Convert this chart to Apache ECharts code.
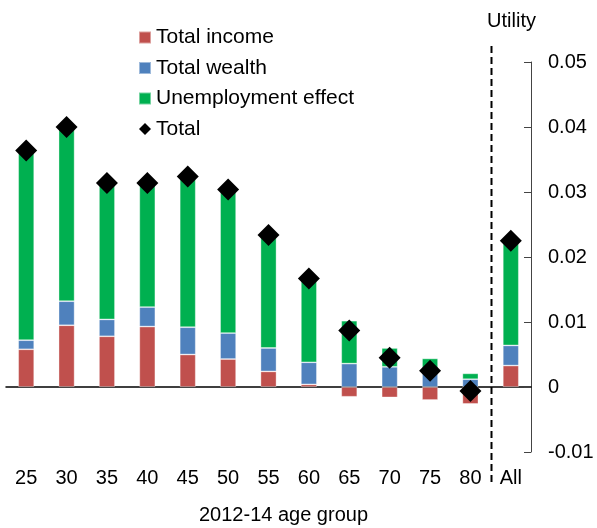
<!DOCTYPE html>
<html>
<head>
<meta charset="utf-8">
<script src="https://cdn.jsdelivr.net/npm/echarts@6/dist/echarts.min.js"></script>
<style>
  html, body { margin: 0; padding: 0; background: #fff; }
  #chart { width: 597px; height: 528px; }
</style>
</head>
<body>
<div id="chart"></div>
<script>
// data
var ageGroups = ['25', '30', '35', '40', '45', '50', '55', '60', '65', '70', '75', '80', 'All'];
var totalIncome = [0.0058, 0.0095, 0.0078, 0.0093, 0.0050, 0.0043, 0.0024, 0.0004, -0.0015, -0.0016, -0.0020, -0.0026, 0.0033];
var totalWealth = [0.0014, 0.0037, 0.0026, 0.0030, 0.0042, 0.0040, 0.0036, 0.0034, 0.0036, 0.0031, 0.0027, 0.0012, 0.0031];
var unemploymentEffect = [0.0288, 0.0266, 0.0207, 0.0187, 0.0229, 0.0217, 0.0171, 0.0127, 0.0066, 0.0029, 0.0017, 0.0009, 0.0157];
var total = [0.0364, 0.0400, 0.0314, 0.0314, 0.0324, 0.0304, 0.0234, 0.0167, 0.0087, 0.0045, 0.0025, -0.0006, 0.0225];
var yMin = -0.01, yMax = 0.05, yStep = 0.01;

var font = 'Liberation Sans, Arial, sans-serif';
var chart = echarts.init(document.getElementById('chart'));

chart.setOption({
  animation: false,
  textStyle: { fontFamily: font, color: '#000' },
  grid: { left: 6, right: 66, top: 62, bottom: 76, containLabel: false, outerBoundsMode: 'none' },
  legend: {
    orient: 'vertical',
    left: 133,
    top: 22,
    itemWidth: 12,
    itemHeight: 12,
    itemGap: 9.5,
    textStyle: { fontSize: 21, color: '#000', fontFamily: font },
    data: [
      { name: 'Total income', icon: 'rect' },
      { name: 'Total wealth', icon: 'rect' },
      { name: 'Unemployment effect', icon: 'rect' },
      { name: 'Total', icon: 'diamond' }
    ]
  },
  xAxis: [{
    // labels + name at the bottom
    type: 'category',
    data: ageGroups,
    position: 'bottom',
    axisLine: { show: false, onZero: false },
    axisTick: { show: false },
    axisLabel: { fontSize: 20, color: '#000', margin: 16 },
    name: '2012-14 age group',
    nameLocation: 'middle',
    nameGap: 53,
    nameTextStyle: { fontSize: 20, color: '#000', padding: [0, 0, 0, 30] }
  }, {
    // zero line with ticks
    type: 'category',
    data: ageGroups,
    axisLine: { onZero: true, lineStyle: { color: '#000', width: 1.5 } },
    axisTick: { inside: true, length: 5, lineStyle: { color: '#555' } },
    axisLabel: { show: false }
  }],
  yAxis: {
    type: 'value',
    position: 'right',
    min: yMin,
    max: yMax,
    interval: yStep,
    splitLine: { show: false },
    axisLine: { show: true, lineStyle: { color: '#444' } },
    axisTick: { show: true, inside: true, length: 7, lineStyle: { color: '#444' } },
    axisLabel: {
      fontSize: 20, color: '#000', margin: 17,
      formatter: function (v) { return v === 0 ? '0' : v.toFixed(2); }
    },
    name: 'Utility',
    nameLocation: 'end',
    nameGap: 31,
    nameTextStyle: { fontSize: 20, color: '#000', align: 'right', padding: [0, -5, 0, 0] }
  },
  series: [
    {
      name: 'Total income', type: 'bar', stack: 'u', barWidth: 16,
      itemStyle: { color: '#C0504D', borderColor: 'rgba(255,255,255,0.45)', borderWidth: 0.8 },
      data: totalIncome
    },
    {
      name: 'Total wealth', type: 'bar', stack: 'u', barWidth: 16,
      itemStyle: { color: '#4F81BD', borderColor: 'rgba(255,255,255,0.45)', borderWidth: 0.8 },
      data: totalWealth
    },
    {
      name: 'Unemployment effect', type: 'bar', stack: 'u', barWidth: 16,
      itemStyle: { color: '#00B050', borderColor: 'rgba(255,255,255,0.45)', borderWidth: 0.8 },
      data: unemploymentEffect
    },
    {
      name: 'Total', type: 'scatter', symbol: 'diamond', symbolSize: 22, z: 5,
      itemStyle: { color: '#000', opacity: 1 },
      data: total
    }
  ]
});

// dashed divider between "80" and "All", placed from the axis scale
var xa = chart.convertToPixel({ xAxisIndex: 0 }, ageGroups[ageGroups.length - 2]);
var xb = chart.convertToPixel({ xAxisIndex: 0 }, ageGroups[ageGroups.length - 1]);
var xd = Math.round((xa + xb) / 2) + 0.5;
chart.setOption({
  graphic: [{
    type: 'line',
    shape: { x1: xd, y1: 46, x2: xd, y2: 484 },
    style: { stroke: '#000', lineWidth: 2, lineDash: [7, 4] },
    z: 10
  }]
});
</script>
</body>
</html>
